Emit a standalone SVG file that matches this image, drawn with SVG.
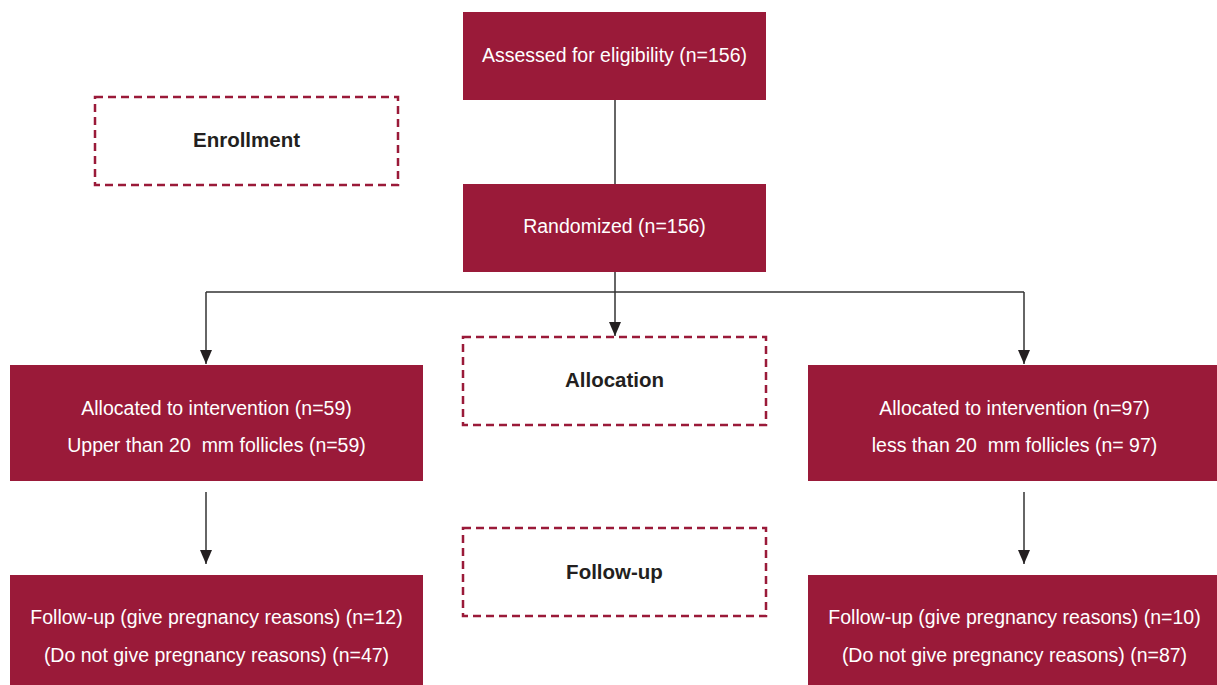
<svg xmlns="http://www.w3.org/2000/svg" width="1217" height="685" viewBox="0 0 1217 685">
<style>
.box{fill:#9a1a39}
.dash{fill:#fff;stroke:#9a1a39;stroke-width:2.5;stroke-dasharray:8 5}
.t{font-family:"Liberation Sans",Arial,sans-serif;font-size:19.5px;fill:#fff;text-anchor:middle;white-space:pre}
.h{font-family:"Liberation Sans",Arial,sans-serif;font-size:20.5px;font-weight:bold;fill:#231f20;text-anchor:middle}
.c{stroke:#333;stroke-width:1.5;fill:none}
</style>
<defs>
<marker id="ah" viewBox="0 0 14 12" refX="14" refY="6" markerWidth="14" markerHeight="12" markerUnits="userSpaceOnUse" orient="auto">
<path d="M0,0 L14,6 L0,12 Z" fill="#231f20"/>
</marker>
</defs>
<rect width="1217" height="685" fill="#fff"/>
<g id="connectors">
<line class="c" x1="615" y1="100" x2="615" y2="184"/>
<line class="c" x1="615" y1="272" x2="615" y2="292"/>
<line class="c" x1="206" y1="292" x2="1024" y2="292"/>
<line class="c" x1="206" y1="292" x2="206" y2="364" marker-end="url(#ah)"/>
<line class="c" x1="1024" y1="292" x2="1024" y2="364" marker-end="url(#ah)"/>
<line class="c" x1="615" y1="292" x2="615" y2="336" marker-end="url(#ah)"/>
<line class="c" x1="206" y1="492" x2="206" y2="564" marker-end="url(#ah)"/>
<line class="c" x1="1024" y1="492" x2="1024" y2="564" marker-end="url(#ah)"/>
</g>
<g id="assessed">
<rect class="box" x="463" y="12" width="303" height="88"/>
<text class="t" x="614.5" y="62">Assessed for eligibility (n=156)</text>
</g>
<g id="enrollment">
<rect class="dash" x="95" y="97" width="303" height="88"/>
<text class="h" x="246.5" y="147">Enrollment</text>
</g>
<g id="randomized">
<rect class="box" x="463" y="184" width="303" height="88"/>
<text class="t" x="614.5" y="233">Randomized (n=156)</text>
</g>
<g id="allocation">
<rect class="dash" x="463" y="337" width="303" height="88"/>
<text class="h" x="614.5" y="387">Allocation</text>
</g>
<g id="alloc-left">
<rect class="box" x="10" y="365" width="413" height="116"/>
<text class="t" x="216.5" y="415">Allocated to intervention (n=59)</text>
<text class="t" x="216.5" y="452" xml:space="preserve">Upper than 20  mm follicles (n=59)</text>
</g>
<g id="alloc-right">
<rect class="box" x="808" y="365" width="413" height="116"/>
<text class="t" x="1014.5" y="415">Allocated to intervention (n=97)</text>
<text class="t" x="1014.5" y="452" xml:space="preserve">less than 20  mm follicles (n= 97)</text>
</g>
<g id="followup">
<rect class="dash" x="463" y="528" width="303" height="88"/>
<text class="h" x="614.5" y="579">Follow-up</text>
</g>
<g id="follow-left">
<rect class="box" x="10" y="575" width="413" height="110"/>
<text class="t" x="216.5" y="624">Follow-up (give pregnancy reasons) (n=12)</text>
<text class="t" x="216.5" y="662">(Do not give pregnancy reasons) (n=47)</text>
</g>
<g id="follow-right">
<rect class="box" x="808" y="575" width="413" height="110"/>
<text class="t" x="1014.5" y="624">Follow-up (give pregnancy reasons) (n=10)</text>
<text class="t" x="1014.5" y="662">(Do not give pregnancy reasons) (n=87)</text>
</g>
</svg>
